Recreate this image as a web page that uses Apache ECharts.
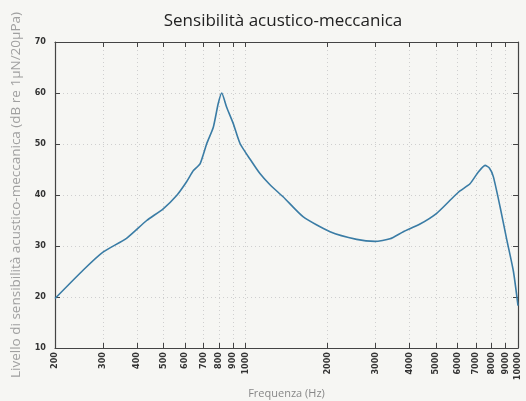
<!DOCTYPE html>
<html>
<head>
<meta charset="utf-8">
<script src="https://cdn.jsdelivr.net/npm/echarts@6/dist/echarts.min.js"></script>
<style>
html,body{margin:0;padding:0;background:#f6f6f3;}
#c{width:526px;height:401px;}
</style>
</head>
<body>
<div id="c"></div>
<script>
const titleText = 'Sensibilità acustico-meccanica';
const xName = 'Frequenza (Hz)';
const yName = 'Livello di sensibilità acustico-meccanica (dB re 1μN/20μPa)';
const xTicks = [200,300,400,500,600,700,800,900,1000,2000,3000,4000,5000,6000,7000,8000,9000,10000];
const yTicks = [10,20,30,40,50,60,70];
const freq  = [200,254,300,366,434,499,559,608,644,681,721,762,794,818,853,902,955,1040,1130,1230,1377,1630,2043,2558,2986,3390,3796,4369,5030,5793,6126,6666,7150,7570,7850,8118,8594,9098,9622,10000];
const level = [19.7,25.3,28.8,31.5,35.0,37.3,39.9,42.6,44.8,46.1,50.1,53.3,57.9,60.0,57.2,54.0,50.1,47.0,44.2,42.0,39.6,35.7,32.8,31.3,30.9,31.4,32.8,34.3,36.4,39.6,40.8,42.2,44.5,45.8,45.3,43.6,37.7,31.2,25.0,18.3];

const chart = echarts.init(document.getElementById('c'));
const lblFont = {fontFamily:'DejaVu Sans Condensed', fontWeight:'bold', fontSize:9, color:'#333'};
const gridLine = {show:true, lineStyle:{color:'#cfcfcf', type:[1,3], width:1}};
chart.setOption({
  backgroundColor:'#f6f6f3',
  animation:false,
  title:{text:titleText, left:278, textAlign:'center', top:8,
    textStyle:{fontFamily:'Open Sans', fontWeight:'normal', fontSize:17, color:'#222'}},
  grid:{left:55, right:8, top:42, bottom:53, outerBoundsMode:'none', containLabel:false},
  xAxis:[{
    type:'log', logBase:10, min:200, max:10000,
    name:xName, nameLocation:'middle', nameGap:40,
    nameTextStyle:{fontFamily:'Open Sans', fontSize:11, color:'#888'},
    axisLine:{lineStyle:{color:'#444', width:1.2}},
    axisTick:{inside:true, length:5, customValues:xTicks, lineStyle:{color:'#444'}},
    axisLabel:Object.assign({rotate:90, margin:4, customValues:xTicks, showMinLabel:true, showMaxLabel:true,
      formatter:v=>String(Math.round(v))}, lblFont),
    splitLine:gridLine, minorTick:{show:false}
  },{
    type:'log', logBase:10, min:200, max:10000, position:'top',
    axisLine:{lineStyle:{color:'#444', width:1.2}},
    axisTick:{inside:true, length:5, customValues:xTicks, lineStyle:{color:'#444'}},
    axisLabel:{show:false}, splitLine:{show:false}
  }],
  yAxis:[{
    type:'value', min:10, max:70, interval:10,
    name:yName, nameLocation:'middle', nameGap:32,
    nameTextStyle:{fontFamily:'Open Sans', fontSize:13.5, color:'#a0a0a0'},
    axisLine:{show:true, lineStyle:{color:'#444', width:1.2}},
    axisTick:{show:true, inside:true, length:5, lineStyle:{color:'#444'}},
    axisLabel:Object.assign({margin:9}, lblFont),
    splitLine:gridLine
  },{
    type:'value', min:10, max:70, interval:10, position:'right',
    axisLine:{show:true, lineStyle:{color:'#444', width:1.2}},
    axisTick:{show:true, inside:true, length:5, lineStyle:{color:'#444'}},
    axisLabel:{show:false}, splitLine:{show:false}
  }],
  series:[{
    type:'line', xAxisIndex:0, yAxisIndex:0,
    data:freq.map((f,i)=>[f, level[i]]),
    showSymbol:false, smooth:0.2,
    lineStyle:{color:'#3a7ca5', width:1.6}
  }]
});
</script>
</body>
</html>
